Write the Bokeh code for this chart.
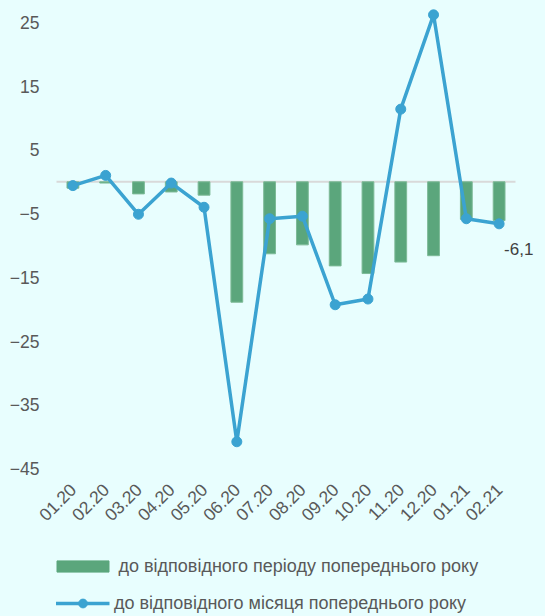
from bokeh.plotting import figure
from bokeh.models import (ColumnDataSource, FactorRange, Range1d, FixedTicker,
                          Legend, LegendItem)
from bokeh.layouts import column
from bokeh.core.properties import value
from bokeh.embed import file_html
from bokeh.resources import INLINE
import math

months = ["01.20", "02.20", "03.20", "04.20", "05.20", "06.20", "07.20",
          "08.20", "09.20", "10.20", "11.20", "12.20", "01.21", "02.21"]
period_vals = [-1.0, -0.2, -1.9, -1.6, -2.1, -18.9, -11.3, -9.9, -13.2,
               -14.4, -12.6, -11.6, -5.9, -6.1]
month_vals = [-0.6, 1.0, -5.1, -0.2, -4.0, -40.8, -5.8, -5.4, -19.3,
              -18.4, 11.4, 26.2, -5.8, -6.6]
y_ticks = [-45, -35, -25, -15, -5, 5, 15, 25]
bar_label = "до відповідного періоду попереднього року"
line_label = "до відповідного місяця попереднього року"

BG = "#E8FEFE"
GREEN = "#5BA67C"
BLUE = "#3BA3D1"
TXT = "#595959"
FONT = "Liberation Sans"

src = ColumnDataSource(dict(m=months, p=period_vals, v=month_vals))

p = figure(width=545, height=550, output_backend="svg", toolbar_location=None,
           x_range=FactorRange(*months, range_padding=0.671,
                               range_padding_units="absolute"),
           y_range=Range1d(-45.31, 28.45),
           min_border_left=34, min_border_right=8, min_border_top=0,
           min_border_bottom=80)
p.background_fill_color = BG
p.border_fill_color = BG
p.outline_line_color = None
p.xgrid.visible = False
p.ygrid.visible = False

# zero line across the category area
p.segment(x0=[(months[0], -0.5)], y0=[0], x1=[(months[-1], 0.5)], y1=[0],
          line_color="#D9D9D9", line_width=2)

p.vbar(x="m", top="p", bottom=0, width=0.36, source=src,
       fill_color=GREEN, line_color="#7DBA97", line_width=1)
p.line(x="m", y="v", source=src, line_color=BLUE, line_width=3.5)
p.scatter(x="m", y="v", source=src, size=10, fill_color=BLUE, line_color=BLUE)

# data label for the last bar
last = len(months) - 1
p.text(x=[months[last]], y=[period_vals[last]],
       text=[f"{period_vals[last]:.1f}".replace(".", ",")],
       x_offset=5, y_offset=28, text_align="left", text_baseline="middle",
       text_font=value(FONT), text_font_size="17px", text_color="#404040")

for ax in (p.xaxis[0], p.yaxis[0]):
    ax.axis_line_color = None
    ax.major_tick_line_color = None
    ax.minor_tick_line_color = None
    ax.major_tick_out = 0
    ax.major_tick_in = 0
    ax.major_label_text_font = FONT
    ax.major_label_text_font_size = "17.5px"
    ax.major_label_text_color = TXT

p.yaxis[0].ticker = FixedTicker(ticks=y_ticks)
p.yaxis[0].major_label_standoff = -5
p.xaxis[0].major_label_orientation = math.pi / 4
p.xaxis[0].major_label_standoff = 16

# legend panel below the chart (legend swatches only, no data)
nan = float("nan")
lg = figure(width=545, height=66, output_backend="svg", toolbar_location=None,
            x_range=Range1d(0, 1), y_range=Range1d(0, 1),
            min_border_left=0, min_border_right=0, min_border_top=0,
            min_border_bottom=0)
lg.background_fill_color = BG
lg.border_fill_color = BG
lg.outline_line_color = None
lg.xaxis.visible = False
lg.yaxis.visible = False
lg.xgrid.visible = False
lg.ygrid.visible = False
rb = lg.vbar(x=[nan], top=[nan], width=0.5, fill_color=GREEN, line_color=GREEN)
rl = lg.line(x=[nan], y=[nan], line_color=BLUE, line_width=3.5)
rs = lg.scatter(x=[nan], y=[nan], size=10, fill_color=BLUE, line_color=BLUE)

legA = Legend(items=[LegendItem(label=bar_label, renderers=[rb])],
              location="top_center", glyph_width=65, glyph_height=14,
              label_height=22, label_width=403, label_standoff=4,
              padding=0, margin=5, spacing=0,
              background_fill_alpha=0, border_line_color=None,
              label_text_font=FONT, label_text_font_size="18px",
              label_text_color=TXT)
legB = Legend(items=[LegendItem(label=line_label, renderers=[rl, rs])],
              location="top_center", glyph_width=54, glyph_height=22,
              label_height=22, label_width=402, label_standoff=5,
              padding=0, margin=42, spacing=0,
              background_fill_alpha=0, border_line_color=None,
              label_text_font=FONT, label_text_font_size="18px",
              label_text_color=TXT)
lg.add_layout(legA, "center")
lg.add_layout(legB, "center")

page_style = ("{% block preamble %}<style>html, body { background: "
              + BG + "; }</style>{% endblock %}")
layout = column(p, lg, spacing=0)
open("out.html", "w").write(file_html(layout, INLINE, template=page_style))
